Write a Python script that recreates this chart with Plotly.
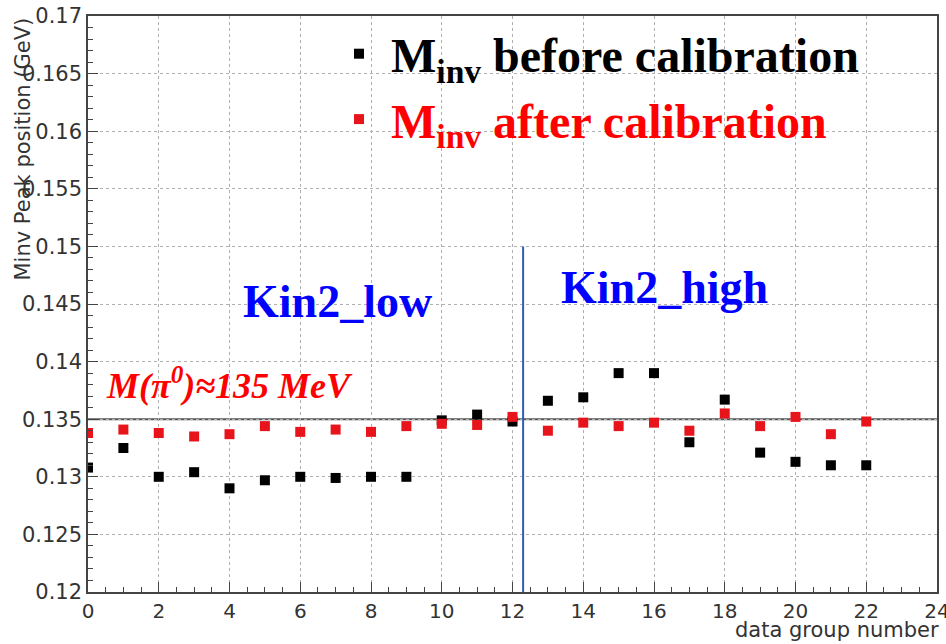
import plotly.graph_objects as go

# ---- data ----
group = list(range(23))
m_before = [0.1308, 0.1325, 0.1300, 0.1304, 0.1290, 0.1297, 0.1300, 0.1299, 0.1300, 0.1300,
            0.1349, 0.1354, 0.1348, 0.1366, 0.1369, 0.1390, 0.1390, 0.1330, 0.1367, 0.1321,
            0.1313, 0.1310, 0.1310]
m_after = [0.1338, 0.1341, 0.1338, 0.1335, 0.1337, 0.1344, 0.1339, 0.1341, 0.1339, 0.1344,
           0.1346, 0.1345, 0.1352, 0.1340, 0.1347, 0.1344, 0.1347, 0.1340, 0.1355, 0.1344,
           0.1352, 0.1337, 0.1348]
x_ticks = list(range(0, 25, 2))
pi0_mass = 0.135
kin_split = 12.3
split_top = 0.15

axis_font = dict(family="DejaVu Sans", size=21, color="#333333")

fig = go.Figure()
fig.add_trace(go.Scatter(
    x=group, y=m_before, mode="markers",
    marker=dict(symbol="square", size=10, color="#000000"),
    name="&nbsp;<b>M<sub>inv</sub> before calibration</b>"))
fig.add_trace(go.Scatter(
    x=group, y=m_after, mode="markers",
    marker=dict(symbol="square", size=10, color="#e8141c"),
    name="&nbsp;<b><span style='color:#ff0000'>M<sub>inv</sub> after calibration</span></b>"))

# reference lines
fig.add_shape(type="line", xref="paper", x0=0, x1=1, yref="y", y0=pi0_mass, y1=pi0_mass,
              line=dict(color="#555555", width=2), layer="below")
fig.add_shape(type="line", xref="x", x0=kin_split, x1=kin_split, yref="y", y0=0.12, y1=split_top,
              line=dict(color="#2f5fb5", width=2))

# text labels
fig.add_annotation(x=7.06, y=0.1452, xref="x", yref="y", showarrow=False,
                   text="<b>Kin2_low</b>",
                   font=dict(family="Liberation Serif", size=46, color="#0000ff"))
fig.add_annotation(x=16.29, y=0.1464, xref="x", yref="y", showarrow=False,
                   text="<b>Kin2_high</b>",
                   font=dict(family="Liberation Serif", size=46, color="#0000ff"))
fig.add_annotation(x=4.0, y=0.1381, xref="x", yref="y", showarrow=False,
                   text="<b><i>M(π<sup>0</sup>)≈135 MeV</i></b>",
                   font=dict(family="Liberation Serif", size=36, color="#ff0000"))

# axis titles (ROOT style, at the ends)
fig.add_annotation(xref="paper", yref="paper", x=(22 - 88) / 849, y=1.0,
                   xanchor="center", yanchor="top", textangle=-90, showarrow=False,
                   text="Minv Peak position (GeV)", font=dict(family="DejaVu Sans", size=21, color="#333333"))
fig.add_annotation(xref="paper", yref="paper", x=1.005, y=-0.0905,
                   xanchor="right", yanchor="bottom", showarrow=False,
                   text="data group number", font=dict(family="DejaVu Sans", size=21, color="#333333"))

fig.update_xaxes(range=[0, 24], tickmode="array", tickvals=x_ticks, ticks="inside", ticklen=10,
                 tickcolor="#444444", ticklabeloverflow="allow", automargin=False,
                 tickfont=dict(family="DejaVu Sans", size=20, color="#333333"),
                 showline=True, linecolor="#444444", linewidth=1.5, mirror=True,
                 showgrid=True, gridcolor="#b0b0b0", griddash="dot", gridwidth=1, zeroline=False,
                 minor=dict(dtick=0.5, ticks="inside", ticklen=5, tickcolor="#444444", showgrid=False))
fig.update_yaxes(range=[0.12, 0.17], dtick=0.005, tick0=0.12, ticks="inside", ticklen=10, tickcolor="#444444",
                 tickfont=axis_font, automargin=False,
                 showline=True, linecolor="#444444", linewidth=1.5, mirror=True,
                 showgrid=True, gridcolor="#b0b0b0", griddash="dot", gridwidth=1, zeroline=False,
                 minor=dict(dtick=0.001, ticks="inside", ticklen=5, tickcolor="#444444", showgrid=False))

fig.update_layout(
    width=946, height=644,
    margin=dict(l=88, r=9, t=16, b=52, autoexpand=False),
    paper_bgcolor="white", plot_bgcolor="white",
    showlegend=True,
    legend=dict(x=(339 - 88) / 849, y=1.0, xanchor="left", yanchor="top",
                bgcolor="rgba(0,0,0,0)", borderwidth=0,
                font=dict(family="Liberation Serif", size=48, color="#000000"),
                itemsizing="trace"),
)

fig.write_html("out.html")
